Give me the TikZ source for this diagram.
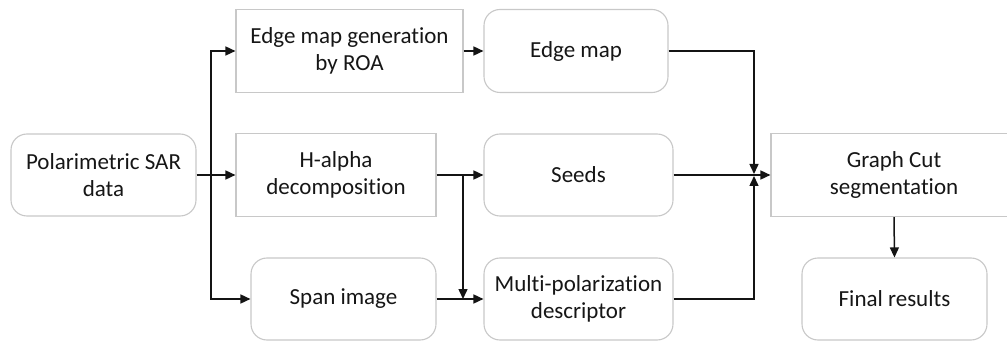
\documentclass[tikz,border=0pt]{standalone}
\usepackage{fontspec}
\setmainfont[Ligatures=NoCommon]{Carlito}
\usetikzlibrary{arrows.meta}
\definecolor{boxline}{HTML}{C8C8C8}
\definecolor{ink}{HTML}{141414}
\definecolor{txt}{HTML}{161616}
\tikzset{
  base/.style={draw=boxline, line width=1.1pt, fill=white, align=center, text=txt,
    font=\fontsize{23}{27.5}\selectfont, inner sep=0pt},
  rbox/.style={base, rounded corners=16pt},
  sbox/.style={base},
  arr/.style={ink, line width=1.5pt, -{Triangle[length=10pt,width=9pt]}},
}
\begin{document}
\begin{tikzpicture}[x=1pt,y=1pt]
\clip (0,0) rectangle (1007,343);
\useasboundingbox (0,0) rectangle (1007,343);
\node[rbox, minimum width=185pt, minimum height=82pt] (sar) at (103.5,168) {Polarimetric SAR\\data};
\node[sbox, minimum width=227pt, minimum height=83pt] (gen) at (349.5,292) {Edge map generation\\by ROA};
\node[sbox, minimum width=200pt, minimum height=83pt] (halpha) at (336,168) {H-alpha\\decomposition};
\node[rbox, minimum width=185pt, minimum height=82pt] (span) at (343.5,44) {Span image};
\node[rbox, minimum width=184pt, minimum height=83pt] (emap) at (576,292) {Edge map};
\node[rbox, minimum width=189pt, minimum height=82pt] (seeds) at (578.5,168) {Seeds};
\node[rbox, minimum width=189pt, minimum height=82pt] (multi) at (578.5,44) {Multi-polarization\\descriptor};
\node[sbox, minimum width=246pt, minimum height=83pt] (gc) at (894,168) {Graph Cut\\segmentation};
\node[rbox, minimum width=185pt, minimum height=82pt] (final) at (894.5,44) {Final results};

\coordinate (s1) at (211,168);
\coordinate (s2) at (463,168);
\coordinate (s2b) at (463,44);
\coordinate (j) at (754,168);

\draw[arr] (sar.east) -- (halpha.west);
\draw[arr] (s1) |- (gen.west);
\draw[arr] (s1) |- (span.west);
\draw[arr] (gen.east) -- (emap.west);
\draw[arr] (halpha.east) -- (seeds.west);
\draw[arr] (s2) -- (s2b);
\draw[arr] (span.east) -- (multi.west);
\draw[arr, shorten >=1pt] (emap.east) -| (j);
\draw[arr] (seeds.east) -- (gc.west);
\draw[arr, shorten >=1pt] (multi.east) -| (j);
\draw[arr] (gc.south) -- (final.north);
\end{tikzpicture}
\end{document}
